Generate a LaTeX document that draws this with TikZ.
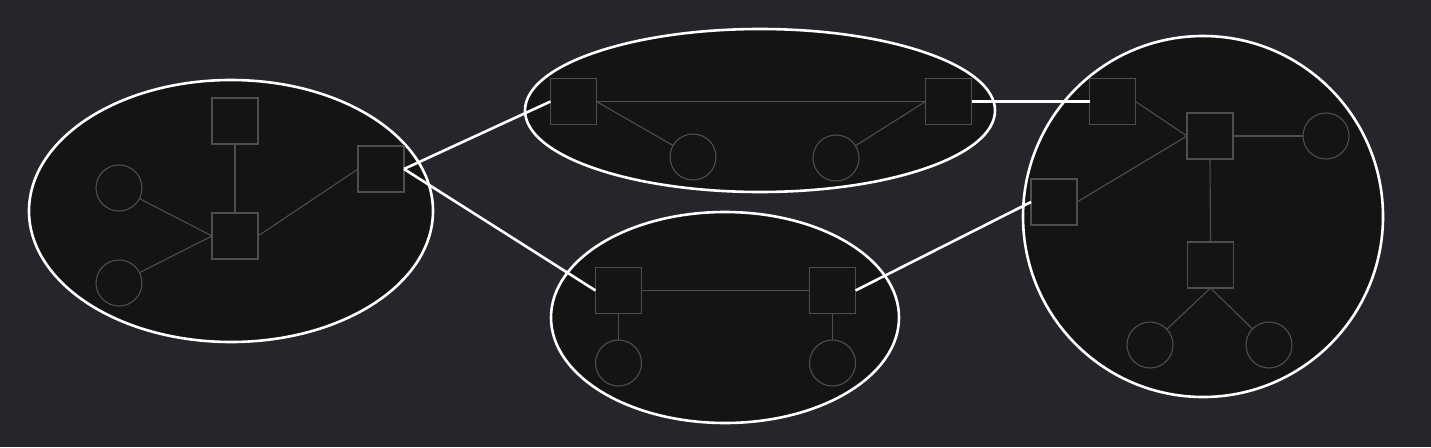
\documentclass[tikz,border=0pt]{standalone}
\begin{document}
\begin{tikzpicture}[x=1pt,y=-1pt,
  group/.style={draw=white,line width=2.6pt,fill=groupfill},
  sq/.style={draw=inner,line width=1.1pt,fill=nodefill,minimum size=46pt,inner sep=0pt,outer sep=0pt},
  cir/.style={circle,draw=inner,line width=1.1pt,fill=nodefill,minimum size=46pt,inner sep=0pt,outer sep=0pt},
  link/.style={draw=inner,line width=1.1pt},
  bridge/.style={draw=white,line width=2.6pt}]
\definecolor{bg}{HTML}{26252B}
\definecolor{groupfill}{HTML}{141414}
\definecolor{nodefill}{HTML}{141414}
\definecolor{inner}{HTML}{4E4E4E}
\fill[bg] (0,0) rectangle (1431,447);
\useasboundingbox (0,0) rectangle (1431,447);
% groups
\draw[group] (231,211) ellipse [x radius=202pt,y radius=131pt];
\draw[group] (760,110.5) ellipse [x radius=235pt,y radius=81.5pt];
\draw[group] (725,317.5) ellipse [x radius=174pt,y radius=105.5pt];
\draw[group] (1203,216.5) ellipse [x radius=180pt,y radius=180.5pt];
% cluster 1
\node[sq] (a1) at (235,121) {};
\node[sq] (a2) at (235,236) {};
\node[sq] (a3) at (381,169) {};
\node[cir] (ac1) at (119,188) {};
\node[cir] (ac2) at (119,283) {};
% cluster 2
\node[sq] (b1) at (573.5,101.5) {};
\node[sq] (b2) at (948.5,101.5) {};
\node[cir] (bc1) at (693,157) {};
\node[cir] (bc2) at (836,158) {};
% cluster 3
\node[sq] (d1) at (618.5,290.5) {};
\node[sq] (d2) at (832.5,290.5) {};
\node[cir] (dc1) at (618.5,363) {};
\node[cir] (dc2) at (832.5,363) {};
% cluster 4
\node[sq] (e1) at (1112.5,101.5) {};
\node[sq] (e2) at (1210,136) {};
\node[sq] (e3) at (1054,202) {};
\node[sq] (e4) at (1210.5,265) {};
\node[cir] (ec1) at (1326,136) {};
\node[cir] (ec2) at (1150,345) {};
\node[cir] (ec3) at (1269,345) {};
% inner links
\draw[link] (a1.south) -- (a2.north);
\draw[link] (ac1) -- (a2.west);
\draw[link] (ac2) -- (a2.west);
\draw[link] (a2.east) -- (a3.west);
\draw[link] (b1.east) -- (b2.west);
\draw[link] (b1.east) -- (bc1);
\draw[link] (b2.west) -- (bc2);
\draw[link] (d1.east) -- (d2.west);
\draw[link] (d1.south) -- (dc1);
\draw[link] (d2.south) -- (dc2);
\draw[link] (e1.east) -- (e2.west);
\draw[link] (e3.east) -- (e2.west);
\draw[link] (e2.east) -- (ec1);
\draw[link] (e2.south) -- (e4.north);
\draw[link] (e4.south) -- (ec2);
\draw[link] (e4.south) -- (ec3);
% bridges
\draw[bridge] (a3.east) -- (b1.west);
\draw[bridge] (a3.east) -- (d1.west);
\draw[bridge] (b2.east) -- (e1.west);
\draw[bridge] (d2.east) -- (e3.west);
\end{tikzpicture}
\end{document}
